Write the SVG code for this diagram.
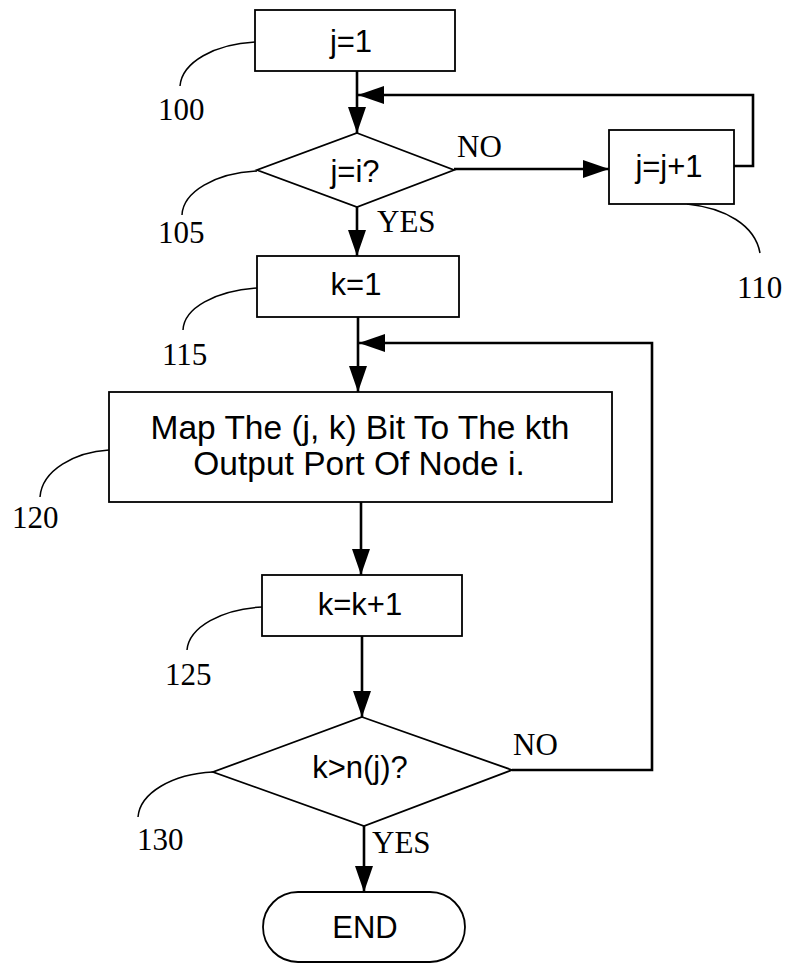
<svg xmlns="http://www.w3.org/2000/svg" width="790" height="965" viewBox="0 0 790 965">
<style>
.box{fill:#fff;stroke:#000;stroke-width:1.8}
.con{fill:none;stroke:#000;stroke-width:2.6}
.lead{fill:none;stroke:#000;stroke-width:1.5}
.t{font-family:"Liberation Sans",Arial,sans-serif;font-size:31px;text-anchor:middle;fill:#000}
.lbl{font-family:"Liberation Serif","Times New Roman",serif;font-size:31px;fill:#000}
</style>
<defs>
<marker id="ah" markerUnits="userSpaceOnUse" markerWidth="27" markerHeight="19" refX="26" refY="9" orient="auto">
<path d="M0,0 L26,9 L0,18 z" fill="#000"/>
</marker>
</defs>
<rect width="790" height="965" fill="#fff"/>
<g id="connectors">
<path class="con" d="M357,71 V133" marker-end="url(#ah)"/>
<path class="con" d="M734,166 H753 V95 H358" marker-end="url(#ah)"/>
<path class="con" d="M454,169 H609" marker-end="url(#ah)"/>
<path class="con" d="M357,207 V256" marker-end="url(#ah)"/>
<path class="con" d="M358,317 V392" marker-end="url(#ah)"/>
<path class="con" d="M512,770 H652 V343 H359" marker-end="url(#ah)"/>
<path class="con" d="M361,502 V575" marker-end="url(#ah)"/>
<path class="con" d="M362,636 V717" marker-end="url(#ah)"/>
<path class="con" d="M364,826 V892" marker-end="url(#ah)"/>
</g>
<g id="leaders">
<path class="lead" d="M255,42 C215,44 182,62 180,86"/>
<path class="lead" d="M257,171 C215,173 183,192 182,215"/>
<path class="lead" d="M687,204 C725,208 755,225 760,253"/>
<path class="lead" d="M257,288 C215,291 184,308 183,330"/>
<path class="lead" d="M109,450 C75,452 42,470 40,497"/>
<path class="lead" d="M262,607 C222,609 189,627 187,650"/>
<path class="lead" d="M213,772 C172,774 140,793 138,817"/>
</g>
<g id="n100">
<rect class="box" x="255" y="10" width="200" height="61"/>
<text class="t" x="351" y="52">j=1</text>
<text class="lbl" x="158" y="120">100</text>
</g>
<g id="n105">
<polygon class="box" points="357,133 454,170 357,207 257,170"/>
<text class="t" x="355" y="182">j=i?</text>
<text class="lbl" x="158" y="243">105</text>
<text class="lbl" x="457" y="157">NO</text>
<text class="lbl" x="377" y="232">YES</text>
</g>
<g id="n110">
<rect class="box" x="609" y="130" width="125" height="74"/>
<text class="t" x="669" y="177">j=j+1</text>
<text class="lbl" x="737" y="298">110</text>
</g>
<g id="n115">
<rect class="box" x="257" y="256" width="202" height="61"/>
<text class="t" x="356" y="295">k=1</text>
<text class="lbl" x="162" y="365">115</text>
</g>
<g id="n120">
<rect class="box" x="109" y="392" width="503" height="110"/>
<text class="t" x="360" y="439" style="font-size:33.5px">Map The (j, k) Bit To The kth</text>
<text class="t" x="359" y="475" style="font-size:33.5px">Output Port Of Node i.</text>
<text class="lbl" x="12" y="528">120</text>
</g>
<g id="n125">
<rect class="box" x="262" y="575" width="200" height="61"/>
<text class="t" x="360" y="615">k=k+1</text>
<text class="lbl" x="165" y="685">125</text>
</g>
<g id="n130">
<polygon class="box" points="362,717 512,770 364,826 213,772"/>
<text class="t" x="360" y="778">k&gt;n(j)?</text>
<text class="lbl" x="137" y="850">130</text>
<text class="lbl" x="513" y="755">NO</text>
<text class="lbl" x="372" y="853">YES</text>
</g>
<g id="end">
<rect class="box" x="263" y="892" width="202" height="70" rx="35" ry="35"/>
<text class="t" x="365" y="938">END</text>
</g>
</svg>
